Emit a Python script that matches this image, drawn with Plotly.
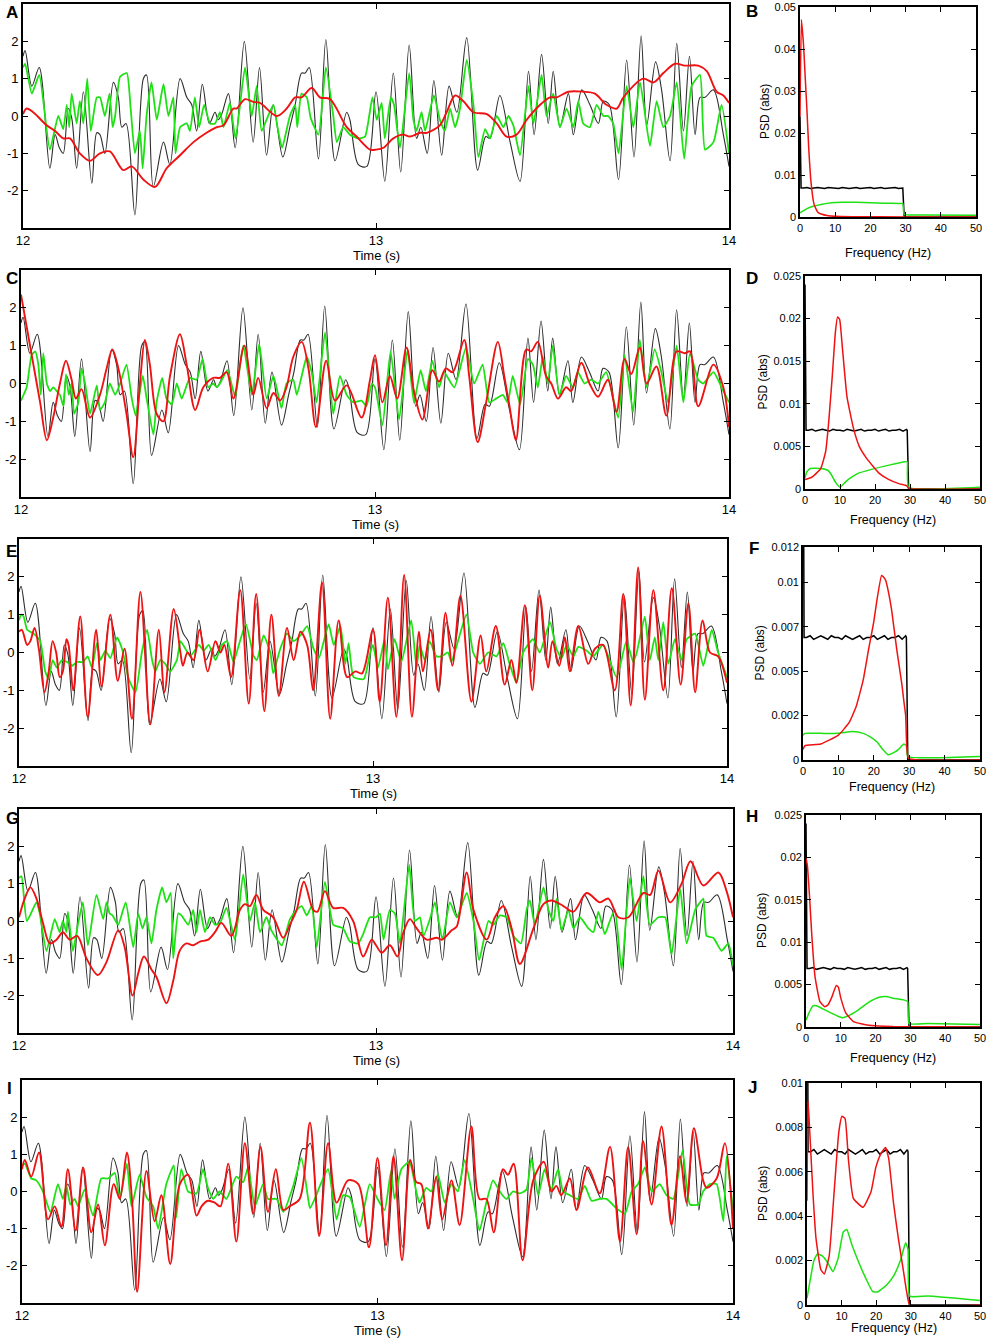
import plotly.graph_objects as go

FONT = "Liberation Sans, Arial, Helvetica, sans-serif"
W, H = 990, 1339

# ---------------- time-series data: (ms after 12 s, value) ----------------
BLACK = [(0,1.6),(6,1.75),(25,0.8),(46,1.3),(76,-1.4),(91,-0.5),(103,-0.85),(114,-1.0),(128,0.2),(138,-0.05),
         (152,-1.4),(171,0.65),(195,-1.8),(209,-0.45),(218,-0.5),(232,-1.0),(256,0.9),(270,0.5),(280,-0.3),(292,-0.2),
         (317,-2.65),(341,1.0),(350,1.1),(369,-1.9),(398,-0.7),(416,-1.3),(445,1.0),(464,0.5),(478,0.3),(492,-0.4),
         (508,0.85),(528,-0.2),(544,0.1),(553,-0.1),(563,0.05),(582,0.6),(601,-0.85),(627,2.0),(652,-0.7),(670,1.3),
         (690,-1.05),(709,0.3),(736,-1.1),(756,-0.3),(771,0.3),(789,1.15),(799,1.15),(811,1.3),(837,-1.15),(858,2.05),
         (884,-1.2),(917,0.1),(926,-0.1),(950,-1.3),(974,-1.35),(1000,0.65),(1025,-1.75),(1049,1.15),(1070,-1.5),
         (1094,1.9),(1115,-0.6),(1127,-0.3),(1145,-1.0),(1164,0.95),(1186,-1.05),(1207,0.8),(1229,0.1),(1257,2.1),
         (1288,-1.45),(1311,-0.55),(1323,-0.6),(1351,0.55),(1380,-0.7),(1408,-1.75),(1432,1.2),(1448,-0.5),(1469,1.65),
         (1488,-0.2),(1502,1.2),(1521,-0.3),(1545,0.6),(1559,-0.5),(1583,0.7),(1606,0.3),(1630,-0.2),(1644,0.4),
         (1661,0.3),(1687,-1.7),(1710,1.5),(1731,-1.1),(1751,2.15),(1767,-0.25),(1792,1.45),(1809,0.7),(1833,-1.2),
         (1852,1.95),(1871,-0.4),(1888,1.6),(1904,-0.5),(1918,0.5),(1932,0.5),(1956,0.7),(1984,-0.5),(2000,-1.35)]

A_GREEN = [(0,1.3),(6,1.4),(25,0.6),(46,1.1),(76,-0.9),(100,0.0),(114,-0.35),(124,0.3),(131,-0.3),(138,0.6),
           (152,-0.2),(161,0.4),(171,-0.2),(182,1.0),(192,-0.4),(209,0.5),(218,0.5),(232,0.0),(245,0.6),(254,-0.3),
           (261,0.0),(275,1.05),(294,1.15),(305,0.2),(317,-1.0),(331,-0.4),(339,-1.4),(350,0.0),(364,0.9),(379,-0.1),
           (398,0.85),(412,0.0),(426,0.5),(432,-1.0),(445,-0.3),(464,-0.2),(473,-0.4),(487,0.5),(499,-0.3),(513,0.3),
           (530,-0.2),(544,-0.2),(558,0.1),(568,-0.3),(586,0.35),(602,-0.6),(629,1.3),(648,0.0),(662,0.8),(676,-0.4),
           (690,-0.1),(709,0.3),(721,-0.3),(734,-0.85),(756,0.0),(771,0.3),(777,-0.3),(789,0.6),(804,0.5),(815,-0.05),
           (837,-0.5),(858,1.3),(879,0.0),(889,-0.7),(907,-0.3),(926,-0.5),(950,-0.6),(969,-0.55),(990,0.5),
           (1002,-0.1),(1016,0.35),(1025,-0.6),(1042,0.5),(1051,0.3),(1068,-0.85),(1094,1.15),(1106,-0.1),(1115,-0.4),
           (1129,0.1),(1139,-0.4),(1164,0.55),(1181,-0.1),(1195,-0.4),(1210,0.2),(1224,-0.3),(1238,0.2),(1257,1.5),
           (1276,0.3),(1290,-1.1),(1309,-0.35),(1323,-0.6),(1342,0.0),(1361,-0.3),(1375,0.0),(1389,-0.25),(1408,-1.05),
           (1432,0.8),(1446,-0.2),(1469,1.1),(1483,0.0),(1502,0.6),(1521,-0.3),(1540,0.2),(1559,-0.3),(1573,0.4),
           (1587,-0.2),(1606,-0.3),(1625,0.3),(1644,0.0),(1658,0.0),(1672,-0.2),(1687,-1.0),(1710,0.8),(1729,-0.3),
           (1748,0.9),(1776,-0.8),(1795,0.4),(1814,-0.3),(1833,0.0),(1852,0.9),(1873,-1.15),(1894,0.8),(1918,1.1),
           (1932,-0.9),(1956,-0.7),(1979,0.3),(2000,-1.0)]

A_RED = [(0,0.05),(10,0.2),(29,0.1),(67,-0.25),(91,-0.4),(114,-0.6),(133,-0.6),(161,-1.0),(190,-1.2),(218,-1.0),
         (246,-0.95),(284,-1.45),(308,-1.35),(341,-1.7),(374,-1.9),(407,-1.4),(445,-1.05),(483,-0.7),(520,-0.45),
         (549,-0.3),(568,-0.25),(596,0.2),(605,0.2),(629,0.45),(652,0.38),(671,0.35),(719,0.0),(747,0.2),(771,0.5),
         (789,0.5),(818,0.75),(841,0.5),(870,0.45),(917,-0.3),(945,-0.55),(983,-0.9),(1000,-0.9),(1021,-0.85),
         (1049,-0.6),(1077,-0.5),(1096,-0.55),(1125,-0.45),(1144,-0.45),(1181,-0.25),(1200,0.1),(1224,0.55),
         (1247,0.4),(1276,0.1),(1314,0.05),(1342,-0.2),(1370,-0.55),(1398,-0.5),(1427,-0.1),(1465,0.3),(1493,0.5),
         (1512,0.5),(1545,0.65),(1587,0.65),(1620,0.6),(1653,0.3),(1682,0.2),(1701,0.5),(1757,1.0),(1786,0.9),
         (1814,1.15),(1847,1.4),(1875,1.35),(1913,1.35),(1937,1.2),(1965,0.65),(1984,0.55),(2000,0.35)]

C_GREEN = [(0,-0.45),(16,-0.1),(30,0.75),(40,0.85),(49,0.5),(56,-0.3),(63,0.8),(73,0.0),(82,-0.2),(91,-0.1),
           (101,-0.2),(110,-0.3),(120,-0.6),(127,0.25),(135,-0.3),(143,0.0),(150,-0.8),(162,-0.5),(171,0.4),(181,0.0),
           (195,-0.8),(214,-0.05),(223,-0.7),(237,-0.5),(251,0.0),(266,-0.3),(280,0.0),(298,0.5),(313,-0.4),(324,-0.85),
           (344,0.2),(355,-0.4),(374,-1.35),(383,-0.5),(399,0.15),(411,-0.4),(426,-0.55),(440,0.0),(454,-0.4),
           (477,0.15),(496,0.1),(513,0.65),(529,-0.1),(543,0.0),(553,-0.1),(562,0.0),(583,0.35),(605,-0.35),(628,1.0),
           (652,-0.3),(673,1.05),(694,-0.4),(713,0.2),(736,-0.65),(750,0.0),(769,0.1),(779,-0.3),(793,0.2),(807,0.7),
           (821,0.3),(835,-0.5),(859,1.35),(882,-0.8),(901,0.2),(920,-0.3),(939,-0.5),(962,-0.45),(976,-0.6),(991,0.0),
           (1000,-0.1),(1021,-1.1),(1044,0.85),(1068,-0.95),(1092,0.9),(1110,-0.5),(1129,0.35),(1144,-0.2),(1162,0.6),
           (1181,-0.1),(1195,0.3),(1224,-0.1),(1257,0.95),(1280,0.0),(1304,0.5),(1323,-0.5),(1342,-0.4),(1361,-0.3),
           (1375,-0.5),(1389,0.2),(1410,-0.55),(1432,0.65),(1446,0.5),(1460,-0.1),(1474,0.7),(1488,0.0),(1502,1.0),
           (1521,-0.3),(1540,0.2),(1559,-0.1),(1573,0.3),(1592,0.0),(1611,0.1),(1630,0.0),(1653,0.3),(1687,-0.9),
           (1705,0.75),(1729,-0.75),(1748,1.15),(1767,-0.1),(1790,0.9),(1809,0.3),(1828,-0.5),(1852,1.0),(1871,-0.5),
           (1890,0.8),(1913,0.1),(1927,0.0),(1956,0.3),(1979,-0.1),(2000,-0.5)]

C_RED = [(0,2.35),(16,1.5),(35,0.5),(54,-0.5),(73,-1.5),(91,-0.9),(110,0.0),(127,0.6),(143,0.1),(155,-0.4),
         (171,-0.15),(195,-0.9),(223,-0.3),(242,0.4),(258,0.9),(275,0.4),(298,-0.8),(317,-1.95),(336,0.0),(350,1.15),
         (364,0.5),(383,-0.8),(402,-1.0),(421,0.2),(449,1.3),(468,0.5),(492,-0.7),(515,-0.1),(543,0.15),(562,0.15),
         (581,0.3),(600,-0.4),(631,1.0),(656,-0.3),(670,0.15),(694,-0.65),(713,-0.25),(732,-0.45),(750,-0.1),
         (769,0.7),(793,1.1),(812,0.4),(833,-1.15),(862,0.6),(887,-0.45),(920,-0.05),(962,-0.9),(986,0.1),
         (1000,0.75),(1021,-0.5),(1042,0.2),(1063,-0.4),(1089,0.95),(1110,-0.2),(1134,-0.95),(1162,0.35),(1181,0.05),
         (1200,0.4),(1219,0.3),(1252,1.15),(1266,0.2),(1290,-1.55),(1314,-0.5),(1347,1.1),(1365,0.2),(1380,-0.6),
         (1398,-1.5),(1427,0.9),(1441,0.85),(1460,1.1),(1483,0.2),(1498,0.0),(1517,-0.4),(1540,-0.1),(1554,-0.2),
         (1583,0.55),(1606,0.0),(1630,-0.35),(1658,0.1),(1682,-0.75),(1705,0.65),(1724,0.25),(1748,0.95),(1767,0.0),
         (1795,0.45),(1823,-0.85),(1852,0.85),(1875,0.8),(1890,0.85),(1913,-0.6),(1956,0.5),(1984,-0.1),(2000,-1.15)]

E_GREEN = [(0,0.85),(6,1.0),(13,0.95),(23,0.6),(41,0.5),(60,0.3),(74,-0.5),(84,-0.7),(95,-0.2),(107,-0.4),
           (121,-0.2),(136,-0.25),(150,-0.35),(164,-0.25),(181,-0.25),(194,-0.1),(206,-0.4),(220,0.25),(230,-0.2),
           (244,0.05),(258,-0.15),(277,0.4),(291,0.1),(310,-0.7),(329,-1.05),(347,0.0),(362,0.6),(376,-0.2),(385,-0.5),
           (399,-0.2),(413,-0.3),(427,-0.5),(446,-0.2),(456,0.3),(470,0.1),(484,-0.1),(508,0.2),(522,0.05),(536,0.2),
           (555,-0.2),(573,0.2),(588,0.3),(606,-0.25),(621,0.2),(641,0.75),(663,-0.1),(672,-0.2),(691,0.45),(710,0.0),
           (718,-0.55),(738,0.1),(757,0.5),(776,0.3),(795,0.45),(814,0.7),(832,0.1),(847,-0.15),(861,0.3),(875,0.75),
           (889,0.2),(908,0.7),(922,-0.3),(931,0.25),(945,-0.65),(974,-0.7),(992,0.0),(1000,0.2),(1014,-0.4),
           (1033,0.35),(1042,-0.45),(1061,0.35),(1080,-0.25),(1108,0.85),(1123,-0.4),(1132,0.2),(1146,-0.2),(1160,0.3),
           (1179,-0.1),(1193,-0.1),(1212,0.0),(1221,-0.25),(1240,0.3),(1264,1.0),(1283,0.0),(1302,-0.3),(1325,0.0),
           (1349,-0.1),(1368,0.25),(1386,-0.3),(1405,-0.8),(1424,0.0),(1452,0.35),(1471,0.0),(1500,0.8),(1518,0.1),
           (1533,-0.15),(1547,0.2),(1566,-0.1),(1580,0.15),(1603,0.05),(1622,-0.1),(1650,0.2),(1688,-0.65),(1716,0.3),
           (1735,-0.25),(1745,0.0),(1768,0.95),(1782,-0.2),(1796,0.4),(1806,-0.2),(1820,0.8),(1834,-0.3),(1853,0.35),
           (1872,-0.2),(1886,0.35),(1910,0.5),(1933,-0.35),(1957,0.6),(1975,0.0),(2000,-0.65)]

E_RED = [(0,0.55),(8,0.6),(23,0.2),(32,0.3),(44,0.65),(56,0.1),(72,-1.05),(84,-0.5),(95,0.3),(105,0.0),
         (115,-0.65),(124,-0.5),(134,0.35),(140,0.2),(153,-1.0),(173,0.95),(194,-1.7),(218,0.6),(233,-0.9),(258,1.0),
         (279,-0.75),(298,0.1),(319,-1.75),(343,1.6),(371,-1.9),(395,0.6),(411,-1.05),(437,1.15),(456,0.0),
         (463,-0.35),(476,0.0),(493,-0.2),(510,0.6),(533,-0.5),(555,0.3),(569,0.0),(580,0.2),(599,-0.65),(625,1.65),
         (649,-1.35),(670,1.55),(693,-1.55),(713,1.0),(734,-1.15),(757,0.65),(776,-0.2),(795,0.55),(814,0.2),
         (831,-1.0),(856,1.85),(879,-1.75),(903,0.85),(927,-0.65),(950,-0.5),(969,-0.55),(1000,0.6),(1019,-1.3),
         (1042,1.45),(1066,-1.7),(1088,2.05),(1110,-1.7),(1130,0.55),(1141,-0.5),(1163,0.6),(1184,-1.0),(1205,1.05),
         (1224,-0.35),(1247,1.5),(1278,-1.3),(1304,0.45),(1320,-0.5),(1347,0.7),(1372,-0.85),(1391,-0.2),(1405,-0.8),
         (1429,1.25),(1450,-1.0),(1471,1.5),(1495,-0.4),(1507,0.3),(1526,-0.35),(1542,0.4),(1556,-0.5),(1580,0.7),
         (1608,-0.3),(1627,0.1),(1650,0.2),(1683,-1.0),(1707,1.55),(1728,-1.4),(1749,2.25),(1768,-1.25),(1792,1.65),
         (1820,-1.0),(1844,1.7),(1869,-0.85),(1891,1.3),(1910,-1.05),(1931,0.85),(1952,0.0),(1975,-0.1),(2000,-0.8)]

G_GREEN = [(0,1.15),(7,1.2),(22,0.0),(49,0.5),(58,0.2),(77,-0.8),(100,0.05),(114,-0.3),(123,0.0),(133,-0.3),
           (137,0.25),(151,-0.8),(165,-0.1),(179,0.5),(193,-0.65),(217,0.7),(236,0.05),(245,0.5),(254,0.2),(262,0.15),
           (278,-0.1),(299,0.5),(320,-0.7),(334,0.2),(346,-0.2),(357,0.1),(371,-0.6),(385,0.3),(401,0.9),(413,0.5),
           (425,0.75),(432,-1.0),(446,0.2),(455,0.15),(474,-0.1),(488,0.3),(497,-0.3),(507,0.3),(521,-0.3),(535,0.1),
           (549,-0.1),(563,-0.05),(581,0.35),(605,-0.5),(628,1.25),(647,0.0),(661,0.5),(675,-0.3),(693,0.1),
           (707,-0.25),(736,-0.65),(759,0.05),(778,0.3),(792,0.4),(806,0.15),(820,0.4),(834,-0.7),(857,1.05),
           (880,-0.1),(894,-0.15),(908,-0.2),(927,-0.55),(950,-0.6),(964,-0.35),(983,0.1),(1000,0.1),(1011,0.2),
           (1021,-0.5),(1039,0.3),(1053,0.2),(1067,-0.6),(1093,1.5),(1109,0.0),(1123,0.1),(1133,-0.4),(1151,0.05),
           (1165,0.5),(1186,-0.5),(1207,0.5),(1226,0.1),(1254,0.75),(1273,0.0),(1289,-1.05),(1315,0.0),(1329,-0.1),
           (1347,0.15),(1366,0.1),(1385,-0.4),(1406,-0.6),(1422,0.3),(1431,0.55),(1445,-0.1),(1469,0.9),(1483,0.3),
           (1497,0.0),(1506,0.6),(1520,-0.25),(1539,0.3),(1553,-0.2),(1571,0.1),(1595,-0.2),(1609,-0.3),(1623,0.25),
           (1641,-0.35),(1655,0.0),(1669,0.3),(1688,-1.3),(1711,1.15),(1730,0.0),(1749,1.2),(1767,-0.1),(1791,0.1),
           (1810,0.1),(1828,-0.9),(1852,0.85),(1870,-0.6),(1894,0.3),(1908,0.5),(1917,0.6),(1926,-0.4),(1945,-0.45),
           (1968,-0.8),(1987,-0.6),(2000,-1.2)]

G_RED = [(0,0.1),(16,0.6),(32,0.9),(49,0.6),(67,-0.05),(86,-0.6),(105,-0.5),(123,-0.3),(142,-0.5),(163,-0.4),
         (189,-1.0),(221,-1.45),(245,-1.1),(278,-0.25),(296,-0.7),(318,-2.0),(334,-1.4),(350,-0.95),(371,-1.3),
         (385,-1.5),(413,-2.2),(432,-1.6),(450,-0.8),(469,-0.6),(488,-0.65),(507,-0.55),(530,-0.5),(549,-0.3),
         (567,-0.05),(595,-0.4),(619,0.3),(633,0.45),(647,0.4),(665,0.7),(684,0.3),(712,0.1),(740,-0.45),(759,-0.1),
         (778,0.3),(798,1.05),(824,0.3),(836,0.25),(857,0.8),(880,0.35),(908,0.35),(936,0.0),(964,-0.95),(988,-0.5),
         (1000,-0.65),(1016,-0.85),(1039,-0.65),(1060,-0.95),(1077,-0.3),(1095,0.05),(1114,-0.2),(1142,-0.5),
         (1170,-0.45),(1184,-0.5),(1212,-0.25),(1226,-0.15),(1254,1.3),(1273,0.3),(1310,-0.5),(1333,0.1),(1357,0.4),
         (1380,-0.2),(1403,-1.15),(1441,-0.2),(1469,0.45),(1492,0.55),(1525,0.4),(1553,0.25),(1590,0.75),(1627,0.5),
         (1651,0.6),(1679,0.1),(1707,0.1),(1749,0.75),(1768,0.7),(1791,1.35),(1824,0.5),(1856,1.0),(1881,1.6),
         (1917,0.95),(1959,1.3),(1982,0.8),(2000,0.1)]

I_GREEN = [(0,0.7),(8,0.75),(26,0.35),(40,0.3),(59,0.0),(80,-0.55),(101,0.2),(115,-0.2),(125,0.15),(136,-0.35),
           (148,-0.2),(158,-0.4),(176,0.05),(200,-0.65),(223,0.35),(242,0.35),(261,0.5),(275,-0.2),(295,0.75),
           (308,-0.4),(331,0.45),(350,-0.15),(369,-0.4),(383,-1.0),(406,0.2),(427,0.7),(434,-0.7),(448,0.6),(467,0.0),
           (491,-0.05),(509,0.6),(523,0.1),(538,-0.2),(556,0.0),(575,-0.2),(603,0.4),(622,0.25),(636,0.65),(655,-0.4),
           (678,0.2),(692,-0.2),(716,-0.2),(735,-0.55),(763,0.15),(786,0.9),(805,-0.2),(810,-0.45),(828,-0.1),
           (838,0.15),(861,0.6),(885,-0.75),(903,-0.1),(922,-0.15),(950,-0.95),(978,0.2),(1000,-0.2),(1020,-0.5),
           (1038,0.55),(1048,-0.2),(1067,0.6),(1090,0.8),(1109,0.0),(1118,-0.3),(1137,0.1),(1151,0.0),(1170,0.45),
           (1189,-0.3),(1208,0.2),(1226,0.0),(1245,0.85),(1269,-0.2),(1287,-1.05),(1306,-0.3),(1325,0.3),(1344,0.0),
           (1362,-0.2),(1381,0.0),(1400,-0.05),(1419,0.05),(1433,0.9),(1452,-0.1),(1470,0.6),(1489,0.05),(1508,0.6),
           (1522,0.0),(1541,-0.1),(1564,-0.2),(1583,0.15),(1602,-0.25),(1625,-0.2),(1644,-0.2),(1672,-0.45),
           (1696,-0.6),(1715,0.0),(1733,0.2),(1752,0.65),(1771,0.0),(1794,0.2),(1813,-0.1),(1832,-0.2),(1858,1.1),
           (1879,-0.35),(1902,-0.35),(1916,0.0),(1935,0.2),(1954,0.2),(1973,-0.8),(1982,0.95),(2000,-0.5)]

I_RED = [(0,0.6),(8,0.85),(26,0.4),(48,1.05),(73,-0.75),(92,-0.4),(111,-0.95),(129,0.6),(151,-1.05),(172,0.65),
         (195,-1.1),(214,-0.35),(233,-1.45),(258,0.2),(275,-0.2),(295,1.05),(310,-0.3),(324,-2.7),(350,0.55),
         (373,-0.8),(392,-0.1),(417,-1.95),(444,0.2),(467,0.45),(491,-0.65),(505,-0.4),(523,-0.25),(542,-0.3),
         (558,-0.4),(580,0.75),(603,-1.35),(627,1.3),(650,-0.6),(671,1.2),(692,-0.55),(714,0.6),(735,-0.5),
         (753,-0.4),(781,-0.2),(810,1.85),(836,-1.2),(861,1.3),(885,-0.3),(917,0.3),(946,0.2),(976,-1.5),(1000,0.9),
         (1024,-1.45),(1045,0.95),(1069,-1.85),(1092,0.85),(1109,0.25),(1123,0.2),(1142,-1.0),(1165,0.4),(1182,-0.75),
         (1208,0.3),(1231,-0.9),(1264,1.75),(1287,-0.2),(1306,-0.2),(1327,-1.1),(1353,0.6),(1367,0.45),(1383,0.75),
         (1408,-1.85),(1438,0.3),(1468,0.8),(1489,0.0),(1503,0.15),(1517,-0.1),(1541,0.35),(1560,-0.5),(1592,0.65),
         (1625,-0.05),(1654,1.2),(1682,-1.35),(1705,1.2),(1729,-1.15),(1747,1.35),(1771,-0.35),(1799,1.75),
         (1827,-0.9),(1851,0.95),(1869,-0.3),(1890,1.7),(1916,0.3),(1926,0.1),(1954,0.35),(1977,1.3),(2000,-1.0)]

# ---------------- PSD data: (Hz, abs) ----------------
PSD_BLACK = [(0,0.024),(0.3,0.0069),(1,0.0069),(2,0.0070),(3,0.0068),(4,0.0069),(5,0.0070),(6,0.0069),(7,0.0068),
             (8,0.0070),(9,0.0069),(10,0.0069),(11,0.0068),(12,0.0070),(13,0.0069),(14,0.0068),(15,0.0069),
             (16,0.0070),(17,0.0068),(18,0.0069),(19,0.0069),(20,0.0070),(21,0.0068),(22,0.0069),(23,0.0070),
             (24,0.0068),(25,0.0069),(26,0.0069),(27,0.0070),(28,0.0068),(29,0.0070),(29.2,0.0069),(29.6,0.0),(50,0.0)]

B_RED = [(0,0.024),(0.4,0.047),(1,0.041),(1.5,0.033),(2,0.025),(2.5,0.016),(3,0.0095),(3.5,0.0055),(4,0.003),
         (5,0.0012),(6,0.0007),(8,0.0003),(10,0.00015),(15,0.00008),(30,0.00002),(50,0.0)]
B_GREEN = [(0,0.001),(1,0.0015),(2,0.002),(4,0.0026),(6,0.003),(9,0.0034),(12,0.0035),(16,0.0035),(20,0.0034),
           (24,0.0033),(28,0.0032),(29.2,0.0032),(29.6,0.0006),(35,0.0005),(50,0.0004)]
D_RED = [(0,0.0011),(2,0.0014),(4.5,0.0024),(5.9,0.0044),(6.8,0.008),(7.8,0.0133),(8.7,0.0185),(9.3,0.0202),
         (9.9,0.0199),(10.7,0.0165),(12,0.0108),(13.8,0.0072),(15.5,0.005),(17.6,0.0036),(21.3,0.0018),(24,0.0011),
         (27,0.0006),(29,0.0004),(29.6,0.0001),(31,0.0),(50,0.0)]
D_GREEN = [(0,0.0013),(0.5,0.002),(1.5,0.0024),(4.5,0.0024),(6.5,0.0022),(7.5,0.0017),(8.7,0.0008),(10,0.0002),
           (11.5,0.0008),(13,0.0013),(15,0.0018),(19,0.0023),(24,0.0028),(28.5,0.0032),(29.2,0.0032),(29.6,0.0002),
           (50,0.0002)]
F_RED = [(0,0.0006),(0.5,0.0008),(5,0.0009),(10,0.0014),(13,0.0021),(15,0.003),(17,0.0045),(18.5,0.0062),
         (20,0.0078),(20.8,0.0089),(22.2,0.0104),(22.8,0.0103),(23.4,0.0101),(24,0.0096),(25,0.0085),(26.5,0.0062),
         (27.9,0.0043),(28.5,0.0033),(29,0.0025),(29.3,0.0008),(29.8,0.0001),(50,0.0)]
F_GREEN = [(0,0.0014),(0.5,0.0015),(5,0.0015),(10,0.0015),(14,0.0016),(17,0.0015),(19,0.0013),(21,0.001),
           (22.5,0.0006),(24,0.0003),(25.5,0.0004),(27,0.0006),(28.5,0.0009),(29.2,0.0008),(29.6,0.0002),(50,0.0002)]
H_RED = [(0,0.0199),(0.4,0.019),(1,0.0155),(1.7,0.0106),(2.6,0.0059),(4,0.003),(5.4,0.0024),(6.3,0.0026),
         (7.3,0.0034),(8.7,0.0049),(9.3,0.0047),(10,0.0034),(11.5,0.0016),(13.8,0.0006),(18,0.0002),(25,0.00005),
         (50,0.0)]
H_GREEN = [(0,0.0008),(1,0.0018),(2,0.0025),(3,0.0025),(5,0.0021),(7,0.0017),(9,0.0013),(10.5,0.0011),(12,0.0013),
           (15,0.002),(18,0.0029),(21,0.0035),(23,0.0036),(25,0.0034),(28,0.0032),(29.2,0.003),(29.6,0.0004),
           (35,0.0004),(50,0.0003)]
J_RED = [(0,0.0047),(0.3,0.0092),(0.8,0.0078),(1.7,0.0051),(2.6,0.003),(4,0.0016),(5,0.0014),(6.4,0.0022),
         (7.8,0.005),(9.2,0.0078),(10.1,0.0085),(11,0.0084),(12,0.0065),(13.4,0.0048),(16.2,0.0044),(18.5,0.0051),
         (19.9,0.0062),(21.3,0.0068),(22.7,0.0071),(23.6,0.0066),(25,0.0046),(26.4,0.003),(27.9,0.0015),
         (28.8,0.0006),(29.7,0.0),(50,0.0)]
J_GREEN = [(0,0.0003),(1,0.0012),(2,0.002),(3,0.0023),(4.5,0.0022),(6,0.0019),(7.5,0.0015),(9,0.0021),
           (10.5,0.0033),(11.5,0.0034),(13,0.0027),(15,0.0019),(17,0.0012),(19,0.0006),(20.5,0.0006),(23,0.0009),
           (25,0.0013),(27,0.002),(28.5,0.0028),(29.2,0.0025),(29.7,0.0004),(35,0.0004),(50,0.0002)]

TIME_TICKS = [12, 13, 14]
AMP_TICKS = [-2, -1, 0, 1, 2]
FREQ_TICKS = [0, 10, 20, 30, 40, 50]

ROWS = [
    dict(L="A", R="B", green=A_GREEN, red=A_RED, pg=B_GREEN, pr=B_RED, ymax=0.05,
         yt=[0, 0.01, 0.02, 0.03, 0.04, 0.05], ytt=["0", "0.01", "0.02", "0.03", "0.04", "0.05"]),
    dict(L="C", R="D", green=C_GREEN, red=C_RED, pg=D_GREEN, pr=D_RED, ymax=0.025,
         yt=[0, 0.005, 0.01, 0.015, 0.02, 0.025], ytt=["0", "0.005", "0.01", "0.015", "0.02", "0.025"]),
    dict(L="E", R="F", green=E_GREEN, red=E_RED, pg=F_GREEN, pr=F_RED, ymax=0.012,
         yt=[0, 0.0025, 0.005, 0.0075, 0.01, 0.012], ytt=["0", "0.002", "0.005", "0.007", "0.01", "0.012"]),
    dict(L="G", R="H", green=G_GREEN, red=G_RED, pg=H_GREEN, pr=H_RED, ymax=0.025,
         yt=[0, 0.005, 0.01, 0.015, 0.02, 0.025], ytt=["0", "0.005", "0.01", "0.015", "0.02", "0.025"]),
    dict(L="I", R="J", green=I_GREEN, red=I_RED, pg=J_GREEN, pr=J_RED, ymax=0.01,
         yt=[0, 0.002, 0.004, 0.006, 0.008, 0.01], ytt=["0", "0.002", "0.004", "0.006", "0.008", "0.01"]),
]

# layout geometry in pixels (left, right, top, bottom)
TS_BOX = [(23, 729, 4, 228), (21, 729, 270, 497), (19, 727, 539, 766), (19, 733, 809, 1033), (22, 733, 1080, 1303)]
PSD_BOX = [(800, 976, 7, 217), (805, 980, 276, 489), (803, 980, 547, 760), (806, 980, 815, 1027), (807, 980, 1083, 1305)]
PSD_TITLE_X = [765, 762, 760, 762, 763]
TIME_TITLE_Y = [255, 524, 793, 1060, 1330]
FREQ_TITLE_Y = [253, 520, 787, 1058, 1328]
LET_L = [(12, 13), (12, 278), (11, 551), (12, 818), (9, 1088)]
LET_R = [(752, 12), (752, 278), (754, 548), (752, 816), (752, 1087)]

BLACK_C = "rgb(45,45,45)"
GREEN_C = "rgb(30,225,20)"
RED_C = "rgb(238,18,18)"


def unzip(pairs, ms=False):
    xs = [p[0] for p in pairs]
    ys = [p[1] for p in pairs]
    if ms:
        xs = [12 + x / 1000.0 for x in xs]
    return xs, ys


def xd(l, r):
    return [l / W, r / W]


def yd(t, b):
    return [1 - b / H, 1 - t / H]


fig = go.Figure()
layout = dict(template="none", width=W, height=H, autosize=False, margin=dict(l=0, r=0, t=0, b=0, pad=0),
              paper_bgcolor="white", plot_bgcolor="white", showlegend=False,
              font=dict(family=FONT, color="black"))
annotations = []

axis_common = dict(showline=True, linecolor="black", linewidth=1.6, mirror="ticks", ticks="inside",
                   ticklen=5, tickwidth=1.2, tickcolor="black", showgrid=False, zeroline=False,
                   automargin=False)

for i, row in enumerate(ROWS):
    n_ts = 2 * i + 1
    n_psd = 2 * i + 2
    xa_ts = "x" if n_ts == 1 else f"x{n_ts}"
    ya_ts = "y" if n_ts == 1 else f"y{n_ts}"
    xa_ps, ya_ps = f"x{n_psd}", f"y{n_psd}"

    bx, by = unzip(BLACK, ms=True)
    gx, gy = unzip(row["green"], ms=True)
    rx, ry = unzip(row["red"], ms=True)
    fig.add_trace(go.Scatter(x=bx, y=by, mode="lines", xaxis=xa_ts, yaxis=ya_ts,
                             line=dict(color=BLACK_C, width=1.1, shape="spline", smoothing=0.9)))
    fig.add_trace(go.Scatter(x=gx, y=gy, mode="lines", xaxis=xa_ts, yaxis=ya_ts,
                             line=dict(color=GREEN_C, width=1.8, shape="spline", smoothing=0.5)))
    fig.add_trace(go.Scatter(x=rx, y=ry, mode="lines", xaxis=xa_ts, yaxis=ya_ts,
                             line=dict(color=RED_C, width=1.9, shape="spline", smoothing=0.9)))

    fx, fy = unzip(PSD_BLACK)
    pgx, pgy = unzip(row["pg"])
    prx, pry = unzip(row["pr"])
    fig.add_trace(go.Scatter(x=fx, y=fy, mode="lines", xaxis=xa_ps, yaxis=ya_ps,
                             line=dict(color="black", width=1.5)))
    fig.add_trace(go.Scatter(x=pgx, y=pgy, mode="lines", xaxis=xa_ps, yaxis=ya_ps,
                             line=dict(color=GREEN_C, width=1.5, shape="spline", smoothing=0.4)))
    fig.add_trace(go.Scatter(x=prx, y=pry, mode="lines", xaxis=xa_ps, yaxis=ya_ps,
                             line=dict(color=RED_C, width=1.5, shape="spline", smoothing=0.4)))

    l, r, t, b = TS_BOX[i]
    kx = "xaxis" if n_ts == 1 else f"xaxis{n_ts}"
    ky = "yaxis" if n_ts == 1 else f"yaxis{n_ts}"
    layout[kx] = dict(axis_common, domain=xd(l, r), anchor=ya_ts, range=[12, 14],
                      tickvals=TIME_TICKS, ticktext=[str(v) for v in TIME_TICKS],
                      tickfont=dict(size=13, family=FONT))
    layout[ky] = dict(axis_common, domain=yd(t, b), anchor=xa_ts, range=[-3, 3],
                      tickvals=AMP_TICKS, ticktext=[str(v) for v in AMP_TICKS],
                      tickfont=dict(size=13, family=FONT))
    annotations.append(dict(text="Time (s)", x=((l + r) / 2) / W, y=1 - TIME_TITLE_Y[i] / H, xref="paper",
                            yref="paper", showarrow=False, xanchor="center", yanchor="middle",
                            font=dict(size=13, family=FONT)))

    l2, r2, t2, b2 = PSD_BOX[i]
    layout[f"xaxis{n_psd}"] = dict(axis_common, domain=xd(l2, r2), anchor=ya_ps, range=[0, 50],
                                   tickvals=FREQ_TICKS, ticktext=[str(v) for v in FREQ_TICKS],
                                   tickfont=dict(size=11, family=FONT))
    layout[f"yaxis{n_psd}"] = dict(axis_common, domain=yd(t2, b2), anchor=xa_ps, range=[0, row["ymax"]],
                                   tickvals=row["yt"], ticktext=row["ytt"], tickfont=dict(size=11, family=FONT))
    annotations.append(dict(text="Frequency (Hz)", x=((l2 + r2) / 2) / W, y=1 - FREQ_TITLE_Y[i] / H, xref="paper",
                            yref="paper", showarrow=False, xanchor="center", yanchor="middle",
                            font=dict(size=12.5, family=FONT)))
    annotations.append(dict(text="PSD (abs)", x=PSD_TITLE_X[i] / W, y=1 - ((t2 + b2) / 2) / H, xref="paper",
                            yref="paper", showarrow=False, xanchor="center", yanchor="middle", textangle=-90,
                            font=dict(size=12, family=FONT)))

    for (px, py), letter in ((LET_L[i], row["L"]), (LET_R[i], row["R"])):
        annotations.append(dict(text=f"<b>{letter}</b>", x=px / W, y=1 - py / H, xref="paper", yref="paper",
                                showarrow=False, xanchor="center", yanchor="middle",
                                font=dict(size=17, family=FONT)))

layout["annotations"] = annotations
fig.update_layout(**layout)
fig.write_html("out.html", config={"displayModeBar": False},
               post_script="document.body.style.margin='0px';document.body.style.overflow='hidden';")
